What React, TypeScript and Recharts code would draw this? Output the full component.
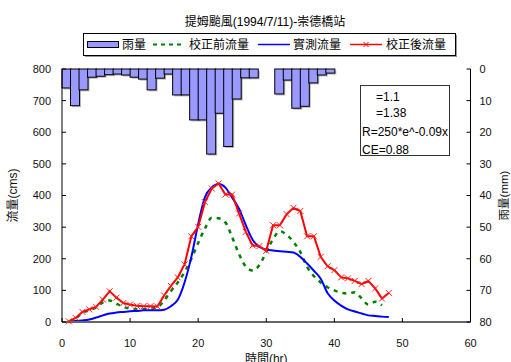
import React from 'react';
import { ComposedChart, Bar, Line, XAxis, YAxis, Legend } from 'recharts';

const FONT = "'Liberation Sans', Arial, 'Noto Sans CJK TC', sans-serif";

// hourly records, hour 1 to 48
const hours = [
  1, 2, 3, 4, 5, 6, 7, 8, 9, 10, 11, 12, 13, 14, 15, 16, 17, 18, 19, 20, 21, 22, 23, 24,
  25, 26, 27, 28, 29, 30, 31, 32, 33, 34, 35, 36, 37, 38, 39, 40, 41, 42, 43, 44, 45, 46, 47, 48,
];

// 雨量 (mm)
const rainfall = [
  6.0, 11.6, 6.6, 2.6, 2.3, 1.8, 1.6, 1.9, 2.6, 3.2, 6.6, 2.9, 1.6, 8.2, 8.2, 16.1,
  16.1, 26.9, 14.0, 24.5, 9.5, 2.8, 2.8, 0, 0, 7.9, 3.5, 12.4, 11.8, 4.4, 1.9, 1.3,
  0, 0, 0, 0, 0, 0, 0, 0, 0, 0, 0, 0, 0, 0, 0, 0,
];

// 校正前流量 (cms)
const flowBefore = [
  2, 11, 29, 37, 46, 62, 68, 58, 48, 42, 40, 40, 42, 46, 68, 98,
  125, 158, 200, 250, 296, 330, 328, 315, 268, 215, 175, 163, 180, 222, 262, 287,
  276, 253, 222, 174, 145, 125, 110, 100, 93, 90, 94, 75, 55, 64, 53, null,
];

// 實測流量 (cms)
const flowObserved = [
  2, 3, 5, 8, 14, 21, 27, 30, 32, 34, 35, 37, 37, 37, 39, 50,
  70, 125, 206, 310, 395, 425, 436, 425, 393, 358, 306, 260, 237, 229, 226, 224,
  222, 220, 206, 185, 162, 137, 92, 68, 52, 40, 33, 27, 21, 19, 17, 16,
];

// 校正後流量 (cms)
const flowAfter = [
  2, 13, 32, 40, 48, 71, 97, 77, 60, 55, 51, 50, 50, 49, 84, 114,
  141, 182, 271, 301, 379, 422, 438, 403, 403, 343, 285, 242, 240, 225, 306, 306,
  341, 361, 351, 271, 271, 206, 176, 164, 141, 138, 130, 120, 130, 106, 74, 92,
];

const timeTicks = [0, 10, 20, 30, 40, 50, 60];
const flowTicks = [0, 100, 200, 300, 400, 500, 600, 700, 800];
const rainTicks = [0, 10, 20, 30, 40, 50, 60, 70, 80];

const data = hours.map((t, i) => ({
  t,
  rain: rainfall[i],
  before: flowBefore[i],
  observed: flowObserved[i],
  after: flowAfter[i],
}));

const tickStyle = { fontSize: 11, fill: '#111', fontFamily: FONT };

// rain bars hang from the top with a soft drop shadow;
// the reversed axis can hand over a negative height, so normalise it
const RainBar = (props: any) => {
  const { x, y, width, height } = props;
  if (x == null || y == null || !height) return null;
  const top = Math.min(y, y + height);
  const h = Math.abs(height);
  if (h < 0.5) return null;
  return (
    <g>
      <rect x={x + 1.5} y={top + 1.5} width={width} height={h} fill="#808080" opacity={0.55} />
      <rect x={x} y={top} width={width} height={h} fill="#9999ff" stroke="#000" strokeWidth={1} />
    </g>
  );
};

const CrossDot = (props: any) => {
  const { cx, cy, index } = props;
  if (cx == null || cy == null) return null;
  return (
    <g key={`x-${index}`} stroke="#ff2020" strokeWidth={1}>
      <line x1={cx - 3} y1={cy - 3} x2={cx + 3} y2={cy + 3} />
      <line x1={cx - 3} y1={cy + 3} x2={cx + 3} y2={cy - 3} />
    </g>
  );
};

const LegendBox = () => (
  <svg width={373} height={23} style={{ display: 'block', overflow: 'visible' }}>
    <rect x={2} y={2} width={372} height={22} fill="#999" />
    <rect x={0.5} y={0.5} width={372} height={22} fill="#fff" stroke="#000" />
    <g fontFamily={FONT} fontSize={12} fill="#000">
      <rect x={4.5} y={8.5} width={31} height={6} fill="#9999ff" stroke="#000" />
      <text x={39} y={16}>雨量</text>
      <line x1={70} y1={11.5} x2={102} y2={11.5} stroke="#008000" strokeWidth={2} strokeDasharray="4 4" />
      <text x={106} y={16}>校正前流量</text>
      <line x1={175} y1={11.5} x2={207} y2={11.5} stroke="#0000ff" strokeWidth={1.5} />
      <text x={210} y={16}>實測流量</text>
      <line x1={267} y1={11.5} x2={299} y2={11.5} stroke="#ff0000" strokeWidth={1.5} />
      <g stroke="#ff0000" strokeWidth={1}>
        <line x1={280.5} y1={9} x2={285.5} y2={14} />
        <line x1={280.5} y1={14} x2={285.5} y2={9} />
      </g>
      <text x={303} y={16}>校正後流量</text>
    </g>
  </svg>
);

const boxText: React.CSSProperties = {
  position: 'absolute',
  fontFamily: FONT,
  fontSize: 12,
  color: '#000',
  lineHeight: '12px',
  whiteSpace: 'nowrap',
};

export default function App() {
  return (
    <div style={{ position: 'absolute', left: 0, top: 0, width: 511, height: 362, background: '#fff' }}>
      <div
        style={{
          position: 'absolute',
          top: 12,
          left: 0,
          width: 530,
          textAlign: 'center',
          fontFamily: FONT,
          fontSize: 12,
          color: '#000',
        }}
      >
        提姆颱風(1994/7/11)-崇德橋站
      </div>

      <ComposedChart
        width={511}
        height={362}
        data={data}
        margin={{ top: 69, right: 0, bottom: 0, left: 0 }}
        barCategoryGap={0}
        barGap={0}
      >
        <XAxis
          xAxisId="rain"
          dataKey="t"
          type="category"
          orientation="top"
          height={0}
          tick={false}
          tickLine={false}
          axisLine={{ stroke: '#a0a0a0', strokeWidth: 2 }}
        />
        <XAxis
          xAxisId="time"
          dataKey="t"
          type="number"
          domain={[0, 60]}
          ticks={timeTicks}
          height={40}
          tick={tickStyle}
          tickSize={-4}
          tickMargin={21}
          tickLine={{ stroke: '#000' }}
          axisLine={{ stroke: '#666', strokeWidth: 2 }}
          label={{ value: '時間(hr)', position: 'insideBottom', offset: -1, style: { fontSize: 12, fill: '#111', fontFamily: FONT } }}
        />
        <YAxis
          yAxisId="flow"
          domain={[0, 800]}
          ticks={flowTicks}
          width={62}
          tick={tickStyle}
          tickSize={-4}
          tickMargin={15}
          tickLine={{ stroke: '#000' }}
          axisLine={{ stroke: '#000' }}
          label={{ value: '流量(cms)', angle: -90, position: 'insideLeft', offset: 13, style: { textAnchor: 'middle', fontSize: 12, fill: '#111', fontFamily: FONT } }}
        />
        <YAxis
          yAxisId="rain"
          orientation="right"
          reversed
          domain={[0, 80]}
          ticks={rainTicks}
          width={40.5}
          tick={tickStyle}
          tickSize={-4}
          tickMargin={13}
          tickLine={{ stroke: '#000' }}
          axisLine={{ stroke: '#000' }}
          label={{ value: '雨量(mm)', angle: -90, position: 'insideRight', offset: 7, style: { textAnchor: 'middle', fontSize: 11.5, fill: '#111', fontFamily: FONT } }}
        />
        <Legend
          verticalAlign="middle"
          align="center"
          layout="horizontal"
          wrapperStyle={{ top: 33, left: 83, width: 375, height: 25 }}
          content={LegendBox}
        />
        <Bar
          xAxisId="rain"
          yAxisId="rain"
          dataKey="rain"
          name="雨量"
          shape={RainBar}
          isAnimationActive={false}
        />
        <Line
          xAxisId="time"
          yAxisId="flow"
          dataKey="before"
          name="校正前流量"
          type="monotone"
          stroke="#008000"
          strokeWidth={2.5}
          strokeDasharray="4 5"
          dot={false}
          isAnimationActive={false}
        />
        <Line
          xAxisId="time"
          yAxisId="flow"
          dataKey="observed"
          name="實測流量"
          type="monotone"
          stroke="#0000ff"
          strokeWidth={2}
          dot={false}
          isAnimationActive={false}
        />
        <Line
          xAxisId="time"
          yAxisId="flow"
          dataKey="after"
          name="校正後流量"
          type="linear"
          stroke="#ff0000"
          strokeWidth={2}
          dot={CrossDot}
          isAnimationActive={false}
        />
      </ComposedChart>

      <div
        style={{
          position: 'absolute',
          left: 360,
          top: 85,
          width: 90,
          height: 71,
          border: '1px solid #333',
          background: '#fff',
          boxSizing: 'border-box',
        }}
      >
        <div style={{ ...boxText, left: 15, top: 5 }}>=1.1</div>
        <div style={{ ...boxText, left: 15, top: 21 }}>=1.38</div>
        <div style={{ ...boxText, left: 1, top: 40 }}>R=250*e^-0.09x</div>
        <div style={{ ...boxText, left: 1, top: 58 }}>CE=0.88</div>
      </div>
    </div>
  );
}
